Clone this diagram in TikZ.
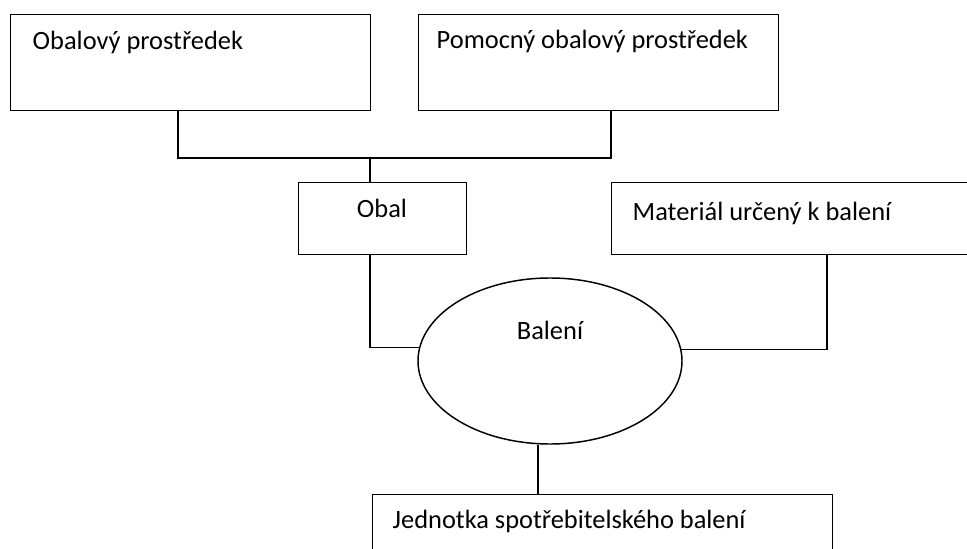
\documentclass[tikz,border=0pt]{standalone}
\usepackage{fontspec}
\setmainfont{Carlito}
\usetikzlibrary{shapes.geometric}
\begin{document}
\begin{tikzpicture}[x=0.75pt,y=-0.75pt,line width=1.1pt,
  box/.style={draw,rectangle,inner sep=0pt,anchor=north west},
  oval/.style={draw,ellipse,inner sep=0pt,minimum width=198pt,minimum height=124.5pt},
  lbl/.style={anchor=base west,inner sep=0pt,font=\fontsize{19.8}{24}\selectfont},
  clbl/.style={anchor=base,inner sep=0pt,font=\fontsize{19.8}{24}\selectfont}]
\clip (0,0) rectangle (967,549);
\fill[white] (0,0) rectangle (967,549);
% boxes
\node[box,minimum width=270pt,minimum height=72pt] (obalprost) at (10,14) {};
\node[box,minimum width=270pt,minimum height=72pt] (pomoc) at (418,14) {};
\node[box,minimum width=126pt,minimum height=54pt] (obal) at (298,182) {};
\node[box,minimum width=292pt,minimum height=54pt] (mat) at (611,182) {};
\node[box,minimum width=345pt,minimum height=60pt] (jedn) at (372,494) {};
\node[oval] (balen) at (550,361) {};
% texts
\node[lbl] (t1) at (32,50) {Obalový prostředek};
\node[lbl] (t2) at (436,49) {Pomocný obalový prostředek};
\node[clbl] (t3) at (382,218) {Obal};
\node[lbl] (t4) at (632,220) {Materiál určený k balení};
\node[clbl] (t5) at (550,339) {Balení};
\node[lbl] (t6) at (392,528) {Jednotka spotřebitelského balení};
% junction coordinates
\coordinate (j1) at (178,158);
\coordinate (j2) at (611,158);
\coordinate (j3) at (370,158);
\coordinate (k2) at (827,349);
\coordinate (k3) at (538,445);
% connectors
\draw (obalprost.south -| j1) -- (j1) -- (j2) -- (pomoc.south -| j2);
\draw (j3) -- (obal.north -| j3);
\draw (obal.south -| j3) |- (balen.174.75);
\draw (mat.south -| k2) |- (balen.5.25);
\draw (balen.south -| k3) -- (jedn.north -| k3);
\end{tikzpicture}
\end{document}
